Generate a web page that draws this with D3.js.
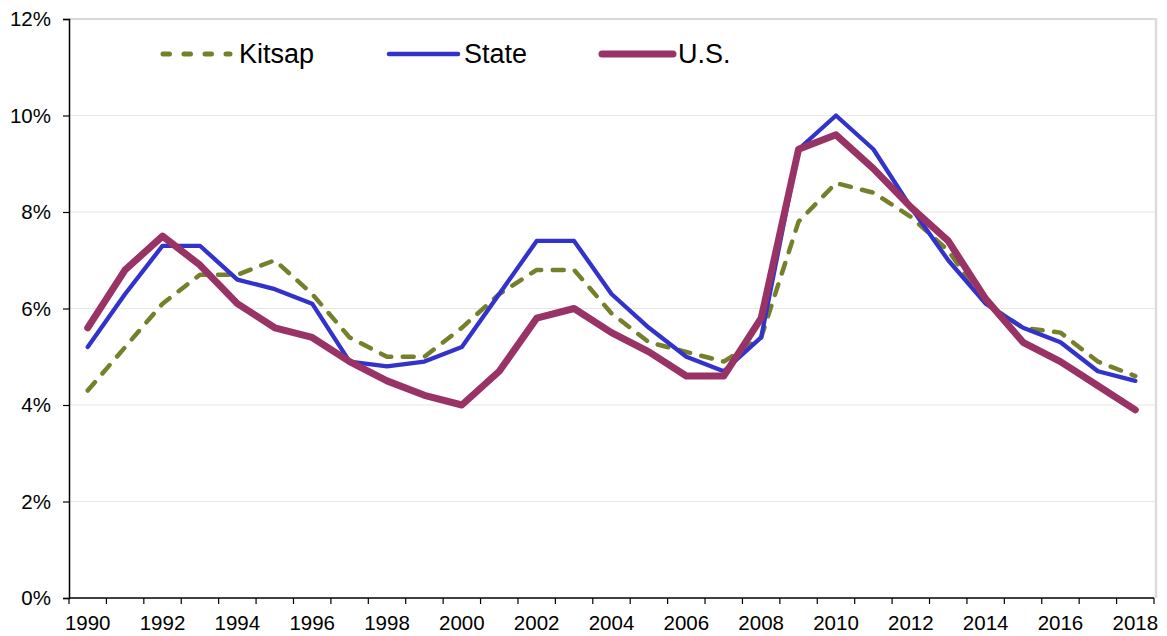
<!DOCTYPE html>
<html>
<head>
<meta charset="utf-8">
<script src="https://cdn.jsdelivr.net/npm/d3@7"></script>
<style>
  html, body { margin: 0; padding: 0; background: #fff; }
  svg { display: block; font-family: "Liberation Sans", Arial, sans-serif; }
</style>
</head>
<body>
<svg id="chart" width="1167" height="636"></svg>
<script>
const years = [1990,1991,1992,1993,1994,1995,1996,1997,1998,1999,2000,2001,2002,2003,2004,2005,2006,2007,2008,2009,2010,2011,2012,2013,2014,2015,2016,2017,2018];
const kitsap = [4.3,5.2,6.1,6.7,6.7,7.0,6.3,5.4,5.0,5.0,5.6,6.3,6.8,6.8,5.9,5.3,5.1,4.9,5.4,7.8,8.6,8.4,7.9,7.2,6.1,5.6,5.5,4.9,4.6];
const state  = [5.2,6.3,7.3,7.3,6.6,6.4,6.1,4.9,4.8,4.9,5.2,6.3,7.4,7.4,6.3,5.6,5.0,4.7,5.4,9.3,10.0,9.3,8.1,7.0,6.1,5.6,5.3,4.7,4.5];
const us     = [5.6,6.8,7.5,6.9,6.1,5.6,5.4,4.9,4.5,4.2,4.0,4.7,5.8,6.0,5.5,5.1,4.6,4.6,5.8,9.3,9.6,8.9,8.1,7.4,6.2,5.3,4.9,4.4,3.9];
const yTicks = [0,2,4,6,8,10,12];
const xLabels = [1990,1992,1994,1996,1998,2000,2002,2004,2006,2008,2010,2012,2014,2016,2018];

(function () {
const series = [
  { name: "Kitsap", values: kitsap, color: "#76802A", width: 4.5, dash: "11,11.5" },
  { name: "State",  values: state,  color: "#3333CC", width: 4.3, dash: null },
  { name: "U.S.",   values: us,     color: "#993366", width: 7,   dash: null }
];

const svg = d3.select("#chart");
const pL = 69, pR = 1154, pT = 19, pB = 598;

const x = d3.scaleBand().domain(years).range([pL, pR]).paddingInner(0).paddingOuter(0);
const y = d3.scaleLinear().domain([0, 12]).range([pB, pT]);
const cx = d => x(d) + x.bandwidth() / 2;

// gridlines
svg.append("g").selectAll("line").data(yTicks.filter(t => t > 0)).join("line")
  .attr("x1", pL).attr("x2", pR + 2)
  .attr("y1", d => y(d)).attr("y2", d => y(d))
  .attr("stroke", d => d === 12 ? "#d9d9d9" : "#e6e6e6")
  .attr("stroke-width", d => d === 12 ? 2 : 1.2);

// right border
svg.append("line").attr("x1", pR + 2).attr("x2", pR + 2)
  .attr("y1", pT - 1).attr("y2", pB)
  .attr("stroke", "#dcdcdc").attr("stroke-width", 2.5);

// y axis
const yAxis = d3.axisLeft(y).tickValues(yTicks).tickFormat(d => d + "%").tickSize(6).tickPadding(12);
const gy = svg.append("g").attr("transform", `translate(${pL},0)`).call(yAxis);
gy.select(".domain").attr("stroke", "#000").attr("stroke-width", 1.5);
gy.selectAll(".tick line").attr("stroke", "#000").attr("stroke-width", 1.2);
gy.selectAll("text").attr("font-size", 20.5).attr("fill", "#000")
  .attr("font-family", "Liberation Sans, Arial, sans-serif");

// x axis: ticks at category boundaries
const boundaries = years.map(d => x(d)).concat([pR]);
const gx = svg.append("g");
gx.append("line").attr("x1", pL).attr("x2", pR).attr("y1", pB).attr("y2", pB)
  .attr("stroke", "#000").attr("stroke-width", 1.5);
gx.selectAll("line.tk").data(boundaries).join("line").attr("class", "tk")
  .attr("x1", d => d).attr("x2", d => d).attr("y1", pB).attr("y2", pB + 6)
  .attr("stroke", "#000").attr("stroke-width", 1.2);
gx.selectAll("text").data(xLabels).join("text")
  .attr("x", d => cx(d)).attr("y", 630)
  .attr("text-anchor", "middle").attr("font-size", 20.5).attr("fill", "#000")
  .text(d => d);

// lines
const line = d3.line().x((d, i) => cx(years[i])).y(d => y(d));
svg.append("g").selectAll("path").data(series).join("path")
  .attr("d", s => line(s.values))
  .attr("fill", "none")
  .attr("stroke", s => s.color)
  .attr("stroke-width", s => s.width)
  .attr("stroke-dasharray", s => s.dash)
  .attr("stroke-linecap", "round")
  .attr("stroke-linejoin", "round");

// legend
const legend = [
  { s: series[0], x1: 163, x2: 230, tx: 239 },
  { s: series[1], x1: 389, x2: 458, tx: 464 },
  { s: series[2], x1: 602, x2: 673, tx: 678 }
];
const lg = svg.append("g");
lg.selectAll("line").data(legend).join("line")
  .attr("x1", d => d.x1).attr("x2", d => d.x2).attr("y1", 54).attr("y2", 54)
  .attr("stroke", d => d.s.color)
  .attr("stroke-width", d => d.s.name === "U.S." ? 7 : (d.s.name === "State" ? 4.5 : 5))
  .attr("stroke-dasharray", d => d.s.dash ? "6.5,14.5" : null)
  .attr("stroke-linecap", "round");
lg.selectAll("text").data(legend).join("text")
  .attr("x", d => d.tx).attr("y", 63)
  .attr("font-size", 27).attr("fill", "#000")
  .text(d => d.s.name);
})();
</script>
</body>
</html>
